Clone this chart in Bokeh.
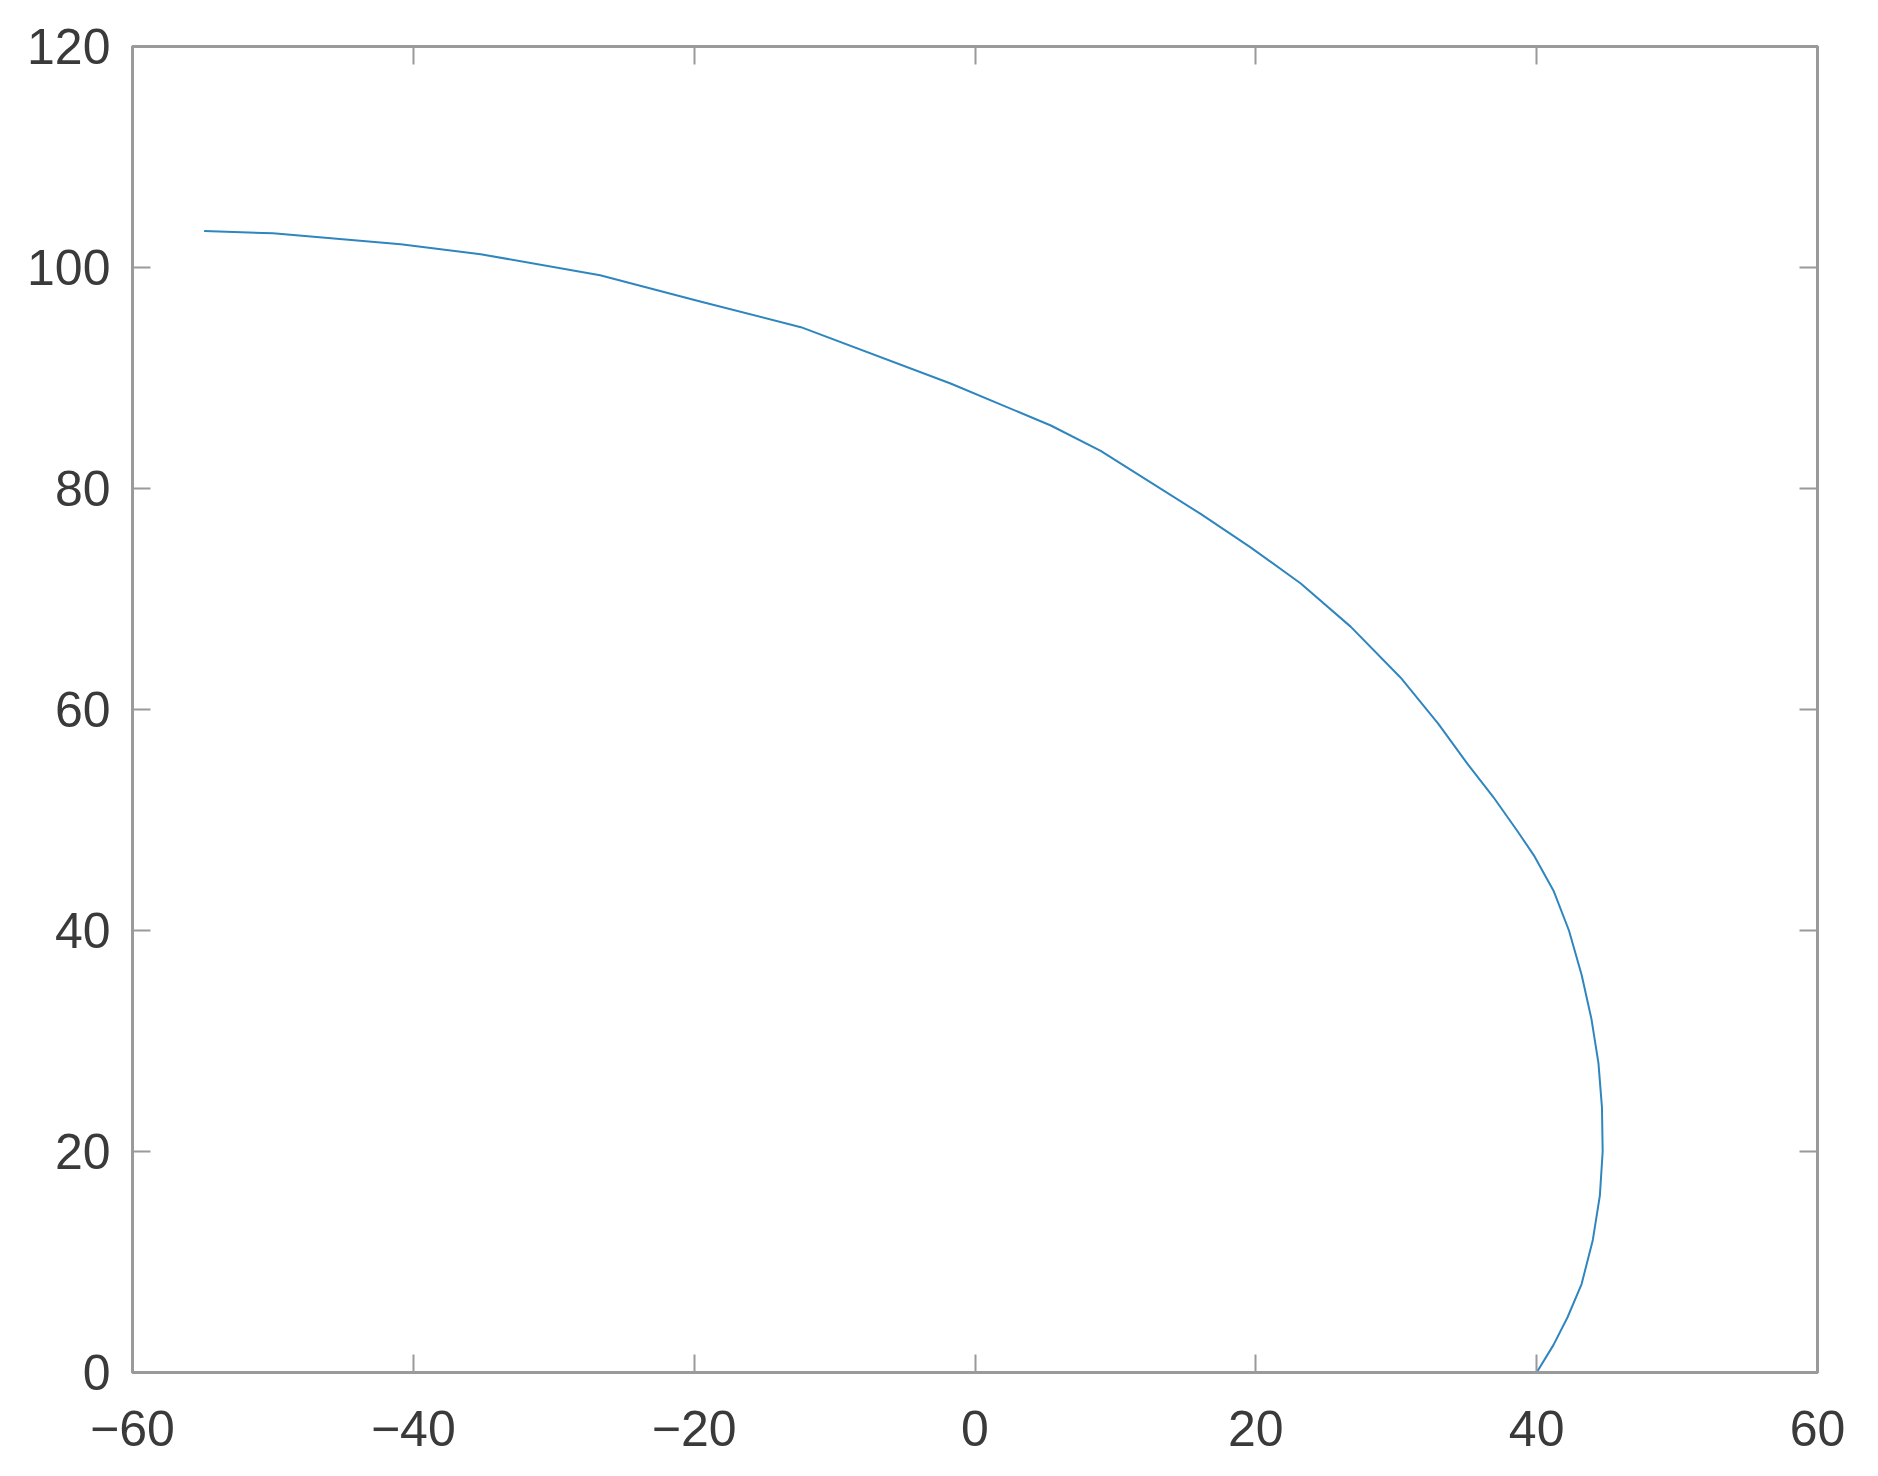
from bokeh.plotting import figure
from bokeh.models import LinearAxis, FixedTicker, Range1d
from bokeh.embed import file_html
from bokeh.resources import INLINE

# Trajectory
x_vals = [-54.9, -50.0, -40.9, -35.2, -26.7, -19.5, -12.4, -1.74, 5.4, 8.95, 16.07, 19.6,
          23.2, 26.75, 30.3, 33.0, 35.06, 36.9, 38.6, 39.8, 41.2, 42.3, 43.2, 43.9, 44.4,
          44.65, 44.7, 44.5, 44.0, 43.2, 42.2, 41.2, 40.0]
y_vals = [103.3, 103.1, 102.1, 101.2, 99.3, 96.9, 94.6, 89.5, 85.7, 83.4, 77.7, 74.7,
          71.4, 67.5, 62.9, 58.7, 55.1, 52.1, 49.05, 46.8, 43.6, 40.0, 36.0, 32.0, 28.0,
          24.0, 20.0, 16.0, 12.0, 8.0, 5.0, 2.5, 0.0]

x_ticks = [-60, -40, -20, 0, 20, 40, 60]
y_ticks = [0, 20, 40, 60, 80, 100, 120]
x_tick_labels = ["\u221260", "\u221240", "\u221220", "0", "20", "40", "60"]
y_tick_labels = ["0", "20", "40", "60", "80", "100", "120"]

FRAME = "#9a9a9a"
TXT = "#3a3a3a"
FONT = "Liberation Sans"
FS = "50px"

p = figure(width=1860, height=1455, output_backend="svg", toolbar_location=None,
           x_range=Range1d(-60, 60), y_range=Range1d(0, 120),
           min_border_left=132, min_border_right=43, min_border_top=46, min_border_bottom=83,
           x_axis_location=None, y_axis_location=None)
p.grid.visible = False
p.outline_line_color = FRAME
p.outline_line_width = 3
p.background_fill_color = "white"
p.border_fill_color = "white"

p.line(x_vals, y_vals, line_color="#2f86bf", line_width=2, line_join="round")

def style(ax, labels_on, ticks, overrides):
    ax.ticker = FixedTicker(ticks=ticks)
    ax.axis_line_color = FRAME
    ax.axis_line_width = 3
    ax.major_tick_line_color = FRAME
    ax.major_tick_line_width = 2
    ax.major_tick_in = 18
    ax.major_tick_out = 0
    ax.minor_tick_line_color = None
    if labels_on:
        ax.major_label_overrides = {t: s for t, s in zip(ticks, overrides)}
        ax.major_label_text_font = FONT
        ax.major_label_text_font_size = FS
        ax.major_label_text_color = TXT
    else:
        ax.major_label_text_font_size = "0px"
        ax.major_label_text_color = None

bottom = LinearAxis()
style(bottom, True, x_ticks, x_tick_labels)
bottom.major_label_standoff = 38
p.add_layout(bottom, "below")

left = LinearAxis()
style(left, True, y_ticks, y_tick_labels)
left.major_label_standoff = 22
p.add_layout(left, "left")

top = LinearAxis()
style(top, False, x_ticks, x_tick_labels)
top.major_label_standoff = 0
p.add_layout(top, "above")

right = LinearAxis()
style(right, False, y_ticks, y_tick_labels)
right.major_label_standoff = 0
p.add_layout(right, "right")

open("out.html", "w").write(file_html(p, INLINE))
